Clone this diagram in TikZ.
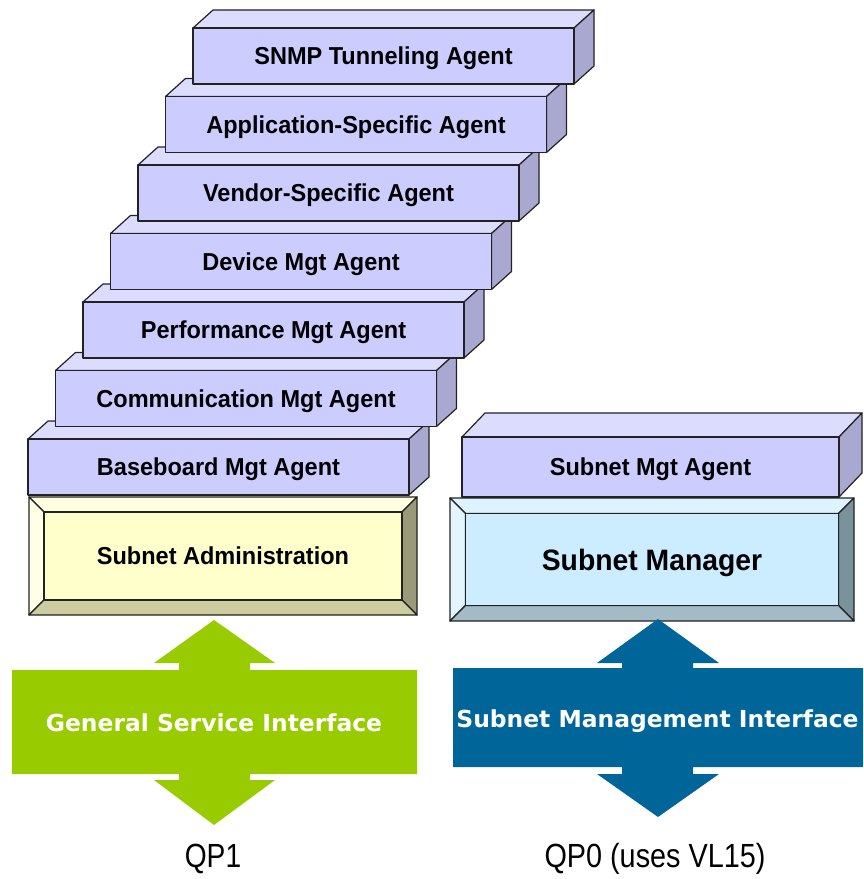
\documentclass[tikz,border=0pt]{standalone}
\usepackage{fontspec}
\setmainfont{Liberation Sans}
\newfontfamily\verdfont{DejaVu Sans}
\definecolor{agfront}{HTML}{CCCCFF}
\definecolor{agtop}{HTML}{DCDCFF}
\definecolor{agside}{HTML}{A8A8D0}
\definecolor{edgec}{HTML}{222222}
\definecolor{yinner}{HTML}{FFFFCC}
\definecolor{ytop}{HTML}{FFFFE0}
\definecolor{yleft}{HTML}{FFFFE8}
\definecolor{yright}{HTML}{9A9A78}
\definecolor{ybot}{HTML}{CCCC9E}
\definecolor{binner}{HTML}{CCECFF}
\definecolor{btop}{HTML}{DDF3FF}
\definecolor{bleft}{HTML}{E3F5FF}
\definecolor{bright}{HTML}{7A929C}
\definecolor{bbot}{HTML}{A3BBC7}
\definecolor{gsigreen}{HTML}{99CC00}
\definecolor{smiblue}{HTML}{006699}
\tikzset{
  boxedge/.style={draw=edgec, line width=1.2pt, line join=round},
  agfrontstyle/.style={boxedge, fill=agfront, inner sep=0pt, outer sep=0pt, anchor=north west,
    font=\fontsize{24.5}{26}\selectfont\bfseries, text height=17.5pt, text depth=0pt},
  bevinner/.style={boxedge, inner sep=0pt, outer sep=0pt, anchor=north west},
  arrowlabel/.style={text=white, font=\verdfont\fontsize{23.4}{26}\selectfont\bfseries, inner sep=0pt,
    text height=17pt, text depth=0pt},
  qplabel/.style={font=\fontsize{33.5}{36}\selectfont, inner sep=0pt, anchor=base},
}
% 3D agent box: name, x, y, w, h, dx, dy, text
\newcommand{\agbox}[8]{%
  \pgfmathsetmacro{\agxr}{#2+#4}%
  \draw[boxedge, fill=agtop] (#2,#3) -- ++(#6,-#7) -- ++(#4,0) -- ++(-#6,#7) -- cycle;
  \draw[boxedge, fill=agside] (\agxr,#3) -- ++(#6,-#7) -- ++(0,#5) -- ++(-#6,#7) -- cycle;
  \node[agfrontstyle, minimum width=#4pt, minimum height=#5pt] (#1) at (#2,#3) {\scalebox{0.96}[1]{#8}};
}
% bevel box: name, x0, y0, x1, y1, bevel, colour prefix, font, text
\newcommand{\bevbox}[9]{%
  \pgfmathsetmacro{\bxa}{#2+#6}%
  \pgfmathsetmacro{\bya}{#3+#6}%
  \pgfmathsetmacro{\bxb}{#4-#6}%
  \pgfmathsetmacro{\byb}{#5-#6}%
  \pgfmathsetmacro{\bw}{#4-#2-2*#6}%
  \pgfmathsetmacro{\bh}{#5-#3-2*#6}%
  \draw[boxedge, fill=#7top] (#2,#3) -- (#4,#3) -- (\bxb,\bya) -- (\bxa,\bya) -- cycle;
  \draw[boxedge, fill=#7left] (#2,#3) -- (\bxa,\bya) -- (\bxa,\byb) -- (#2,#5) -- cycle;
  \draw[boxedge, fill=#7right] (#4,#3) -- (#4,#5) -- (\bxb,\byb) -- (\bxb,\bya) -- cycle;
  \draw[boxedge, fill=#7bot] (#2,#5) -- (#4,#5) -- (\bxb,\byb) -- (\bxa,\byb) -- cycle;
  \node[bevinner, fill=#7inner, minimum width=\bw pt, minimum height=\bh pt, #8] (#1) at (\bxa,\bya) {#9};
}
\begin{document}
\begin{tikzpicture}[x=1pt, y=-1pt]
\useasboundingbox (0,0) rectangle (863,879);

% agent stack, drawn from bottom to top
\agbox{baseboard}{28}{439}{381}{56}{20}{18}{Baseboard Mgt Agent}
\agbox{communication}{55.5}{370.5}{381}{56}{20}{18}{Communication Mgt Agent}
\agbox{performance}{83}{302}{381}{56}{20}{18}{Performance Mgt Agent}
\agbox{device}{110.5}{233.5}{381}{56}{20}{18}{Device Mgt Agent}
\agbox{vendor}{138}{165}{381}{56}{20}{18}{Vendor-Specific Agent}
\agbox{application}{165.5}{96.5}{381}{56}{20}{18}{Application-Specific Agent}
\agbox{snmp}{193}{28}{381}{56}{20}{18}{SNMP Tunneling Agent}

\agbox{smagent}{462}{437}{377}{60}{23}{24}{Subnet Mgt Agent}

% bevel boxes
\bevbox{sa}{29}{497}{417}{615}{15}{y}{font=\fontsize{24.5}{26}\selectfont\bfseries, text height=17.5pt, text depth=0pt}{\scalebox{0.96}[1]{Subnet Administration}}
\bevbox{sm}{450}{498}{854}{621}{15.5}{b}{font=\fontsize{29.5}{31}\selectfont\bfseries, text height=21pt, text depth=0pt}{\scalebox{0.96}[1]{Subnet Manager}}

% General Service Interface double arrow
\fill[gsigreen] (214,620) -- (275,663) -- (250,663) -- (250,670) -- (417,670) -- (417,774)
  -- (250,774) -- (250,780) -- (275,780) -- (214,825) -- (154,780) -- (179,780) -- (179,774)
  -- (12,774) -- (12,670) -- (179,670) -- (179,663) -- (154,663) -- cycle;
\node[arrowlabel] (gsi) at (214,722.5) {General Service Interface};

% Subnet Management Interface double arrow
\fill[smiblue] (658,619) -- (719,663) -- (693,663) -- (693,668) -- (863,668) -- (863,767)
  -- (693,767) -- (693,774) -- (719,774) -- (658,817) -- (597,774) -- (622,774) -- (622,767)
  -- (453,767) -- (453,668) -- (622,668) -- (622,663) -- (597,663) -- cycle;
\node[arrowlabel] (smi) at (657.5,719) {Subnet Management Interface};

% queue pair labels
\node[qplabel] (qp1) at (213,867) {\scalebox{0.84}[1]{QP1}};
\node[qplabel] (qp0) at (655,867) {\scalebox{0.86}[1]{QP0 (uses VL15)}};
\end{tikzpicture}
\end{document}
